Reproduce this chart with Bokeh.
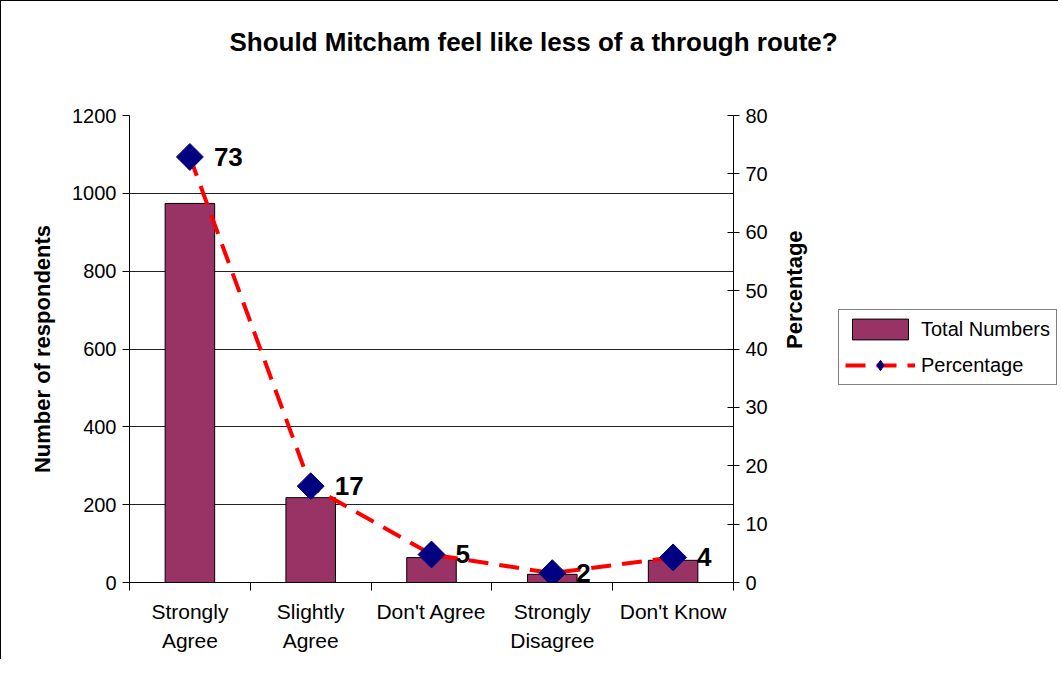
import math
from bokeh.plotting import figure
from bokeh.layouts import row
from bokeh.models import (Range1d, LinearAxis, FixedTicker, ColumnDataSource, LabelSet,
                          Legend, LegendItem)
from bokeh.core.properties import value
from bokeh.embed import file_html
from bokeh.resources import INLINE

categories = ["Strongly\nAgree", "Slightly\nAgree", "Don't Agree", "Strongly\nDisagree", "Don't Know"]
total_numbers = [974, 218, 64, 21, 57]
percentage = [72.9, 16.5, 4.8, 1.6, 4.3]
pct_labels = ["73", "17", "5", "2", "4"]
left_ticks = [0, 200, 400, 600, 800, 1000, 1200]
right_ticks = [0, 10, 20, 30, 40, 50, 60, 70, 80]

FONT = "Liberation Sans"
W_MAIN, W_LEG, H = 838, 220, 659
FL, FT = 128, 114
FR, FB = 732, 581
BAR_COLOR = "#993366"
LINE_COLOR = "#ff0000"
MARK_COLOR = "#000080"

xs = [i + 1 for i in range(len(categories))]
src = ColumnDataSource(dict(x=xs, n=total_numbers, pct=percentage, lab=pct_labels))

p = figure(width=W_MAIN, height=H, output_backend="svg", toolbar_location=None,
           x_range=Range1d(0.5, len(categories) + 0.5), y_range=Range1d(0, 1200),
           min_border_left=FL, min_border_top=FT, min_border_right=W_MAIN - FR,
           min_border_bottom=H - FB)
p.extra_y_ranges = {"pct": Range1d(0, 80)}
p.outline_line_color = None
p.background_fill_color = "white"
p.border_fill_color = "white"
p.styles = {"border-left": "1px solid black", "border-top": "1px solid black"}

# title (second blank line lifts the text within the top margin)
p.title.text = "Should Mitcham feel like less of a through route?\n "
p.title.align = "left"
p.title.offset = 100
p.title.standoff = 45
p.title.text_font = FONT
p.title.text_font_style = "bold"
p.title.text_font_size = "26px"
p.title.text_line_height = 1.2
p.title.text_color = "black"

# bars
bars = p.vbar(x="x", top="n", width=0.41, source=src, fill_color=BAR_COLOR,
              line_color="black", line_width=1)
# percentage line
line = p.line(x="x", y="pct", source=src, y_range_name="pct", line_color=LINE_COLOR,
              line_width=4, line_dash="20 11")
marks = p.scatter(x="x", y="pct", source=src, y_range_name="pct", marker="square",
                  angle=math.pi / 4, size=19, fill_color=MARK_COLOR, line_color=MARK_COLOR)
labels = LabelSet(x="x", y="pct", text="lab", source=src, y_range_name="pct",
                  x_offset=24, y_offset=0, text_baseline="middle",
                  text_font=value(FONT), text_font_style="bold", text_font_size="26px",
                  text_color="black")
p.add_layout(labels)

# x axis
xax = p.xaxis[0]
xax.ticker = FixedTicker(ticks=xs, minor_ticks=[x - 0.5 for x in xs] + [xs[-1] + 0.5])
xax.major_label_overrides = {x: c for x, c in zip(xs, categories)}
xax.major_tick_line_color = None
xax.minor_tick_line_color = "black"
xax.minor_tick_in = 0
xax.minor_tick_out = 8
xax.major_label_standoff = 9
xax.major_label_text_font = FONT
xax.major_label_text_font_size = "21px"
xax.major_label_text_line_height = 1.3
xax.major_label_text_color = "black"
xax.axis_line_color = "black"

# left axis
yax = p.yaxis[0]
yax.ticker = FixedTicker(ticks=left_ticks)
yax.minor_tick_line_color = None
yax.major_tick_in = 0
yax.major_tick_out = 7
yax.major_label_standoff = 6
yax.major_label_text_font = FONT
yax.major_label_text_font_size = "20px"
yax.major_label_text_color = "black"
yax.axis_line_color = "black"
yax.axis_label = "Number of respondents"
yax.axis_label_text_font = FONT
yax.axis_label_text_font_style = "bold"
yax.axis_label_text_font_size = "22px"
yax.axis_label_text_color = "black"
yax.axis_label_standoff = 14

# right axis
rax = LinearAxis(y_range_name="pct", ticker=FixedTicker(ticks=right_ticks))
rax.minor_tick_line_color = None
rax.major_tick_in = 6
rax.major_tick_out = 6
rax.major_label_standoff = 6
rax.major_label_text_font = FONT
rax.major_label_text_font_size = "20px"
rax.major_label_text_color = "black"
rax.axis_line_color = "black"
rax.axis_label = "Percentage"
rax.axis_label_orientation = math.pi / 2
rax.axis_label_text_font = FONT
rax.axis_label_text_font_style = "bold"
rax.axis_label_text_font_size = "22px"
rax.axis_label_text_color = "black"
rax.axis_label_standoff = 24
p.add_layout(rax, "right")

p.xgrid.grid_line_color = None
p.ygrid.grid_line_color = "#222222"
p.ygrid.grid_line_width = 1

# legend panel (separate figure so it is not clipped by the plot frame);
# its proxy glyphs use the same data but lie outside this panel's ranges
lf = figure(width=W_LEG, height=H, output_backend="svg", toolbar_location=None,
            x_axis_type=None, y_axis_type=None, x_range=Range1d(-30, -20),
            y_range=Range1d(-30, -20), min_border=0)
lf.outline_line_color = None
lf.grid.grid_line_color = None
lf.border_fill_color = "white"
lf.background_fill_color = "white"
lf.styles = {"border-top": "1px solid black"}
lg_bar = lf.vbar(x="x", top="n", width=0.41, source=src, fill_color=BAR_COLOR,
                 line_color="black", line_width=1)
lg_line = lf.line(x="x", y="pct", source=src, line_color=LINE_COLOR, line_width=4,
                  line_dash="20 11")
lg_mark = lf.scatter(x="x", y="pct", source=src, marker="diamond", size=19,
                     fill_color=MARK_COLOR, line_color=MARK_COLOR)
legend = Legend(items=[LegendItem(label="Total Numbers", renderers=[lg_bar]),
                       LegendItem(label="Percentage", renderers=[lg_line, lg_mark])],
                location=(0, FB - 384), orientation="vertical")
legend.border_line_color = "black"
legend.border_line_width = 1
legend.background_fill_color = "white"
legend.label_text_font = FONT
legend.label_text_font_size = "20px"
legend.label_text_color = "black"
legend.glyph_width = 70
legend.glyph_height = 26
legend.spacing = 10
legend.padding = 6
legend.margin = 0
legend.label_standoff = 6
lf.add_layout(legend, "center")

layout = row(p, lf, spacing=0)
open("out.html", "w").write(file_html(layout, INLINE))
